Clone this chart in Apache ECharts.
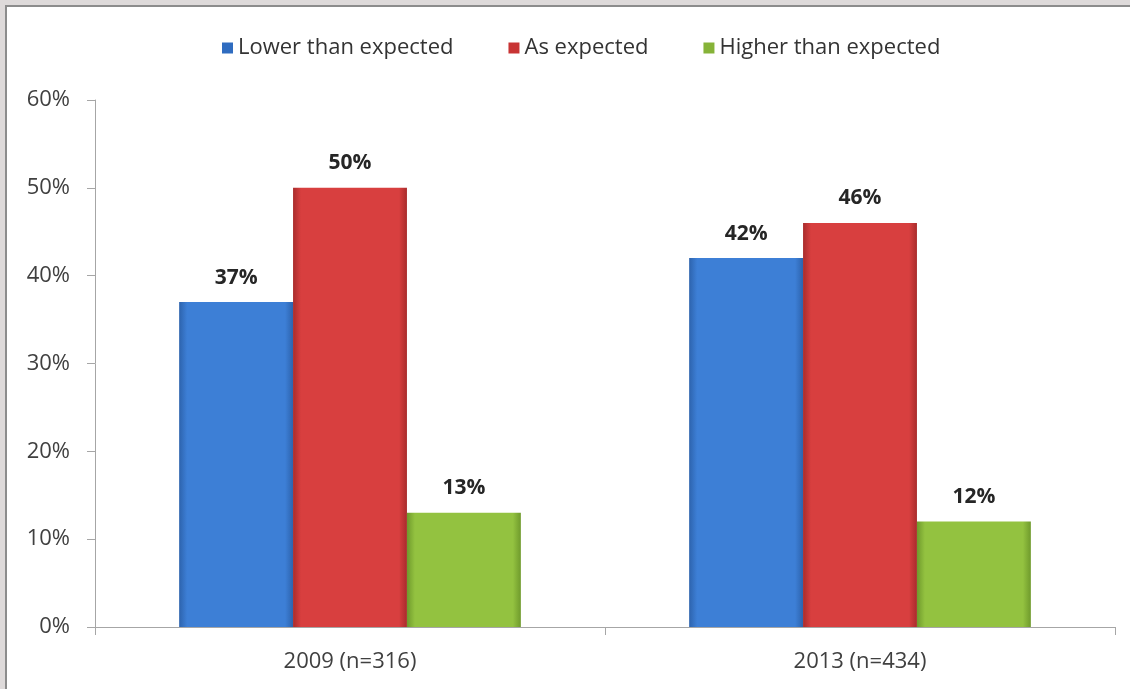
<!DOCTYPE html>
<html>
<head>
<meta charset="utf-8">
<script src="https://cdn.jsdelivr.net/npm/echarts@6/dist/echarts.min.js"></script>
<style>
  html, body { margin: 0; padding: 0; width: 1130px; height: 689px; overflow: hidden; background: #dedada; }
  #frame { position: absolute; left: 5px; top: 5px; width: 1140px; height: 700px; background: #ffffff;
           border-left: 2px solid #8c8c8c; border-top: 2px solid #8c8c8c; }
  #chart { position: absolute; left: 0; top: 0; width: 1130px; height: 689px; }
</style>
</head>
<body>
<div id="frame"></div>
<div id="chart"></div>
<script>
// Survey periods and respondents
const categories = ['2009 (n=316)', '2013 (n=434)'];
const seriesNames = ['Lower than expected', 'As expected', 'Higher than expected'];
// Share of responses, percent
const lowerValues = [37, 42];
const asExpectedValues = [50, 46];
const higherValues = [13, 12];
const yTicks = [0, 10, 20, 30, 40, 50, 60];

const FONT = '"Open Sans", Lato, sans-serif';
const FS = 22;

// Darker vertical edges give the bars a bevelled look
function bevel(edge, main) {
  return {
    type: 'linear', x: 0, y: 0, x2: 1, y2: 0,
    colorStops: [
      { offset: 0, color: edge },
      { offset: 0.07, color: main },
      { offset: 0.93, color: main },
      { offset: 1, color: edge }
    ]
  };
}

const palette = [
  { main: '#3d7fd6', edge: '#2d63ad', legend: '#2f6cc0' },
  { main: '#d83f3f', edge: '#a92c2c', legend: '#c83434' },
  { main: '#93c240', edge: '#6f9a2c', legend: '#86b338' }
];
const valueLists = [lowerValues, asExpectedValues, higherValues];

const chart = echarts.init(document.getElementById('chart'), null, { renderer: 'canvas' });

chart.setOption({
  backgroundColor: 'transparent',
  animation: false,
  textStyle: { fontFamily: FONT },
  legend: {
    top: 32,
    left: 217,
    itemWidth: 11,
    itemHeight: 11,
    itemGap: 55,
    icon: 'rect',
    textStyle: { fontFamily: FONT, fontSize: FS, color: '#333333' },
    data: seriesNames.map((n, i) => ({ name: n, itemStyle: { color: palette[i].legend } }))
  },
  grid: { left: 95, right: 15, top: 100, bottom: 62, containLabel: false },
  xAxis: {
    type: 'category',
    data: categories,
    axisLine: { lineStyle: { color: '#a6a6a6', width: 1 } },
    axisTick: { show: true, length: 8, lineStyle: { color: '#a6a6a6' } },
    axisLabel: { fontFamily: FONT, fontSize: FS, color: '#404040', margin: 24 }
  },
  yAxis: {
    type: 'value',
    min: yTicks[0],
    max: yTicks[yTicks.length - 1],
    interval: 10,
    axisLine: { show: true, lineStyle: { color: '#a6a6a6', width: 1 } },
    axisTick: { show: true, length: 8, lineStyle: { color: '#a6a6a6' } },
    splitLine: { show: false },
    axisLabel: { fontFamily: FONT, fontSize: FS, color: '#404040', margin: 25, formatter: v => v + '%' }
  },
  series: seriesNames.map((name, i) => ({
    name: name,
    type: 'bar',
    data: valueLists[i],
    barGap: '0%',
    barCategoryGap: '33%',
    itemStyle: { color: bevel(palette[i].edge, palette[i].main) },
    label: {
      show: true,
      position: 'top',
      distance: 14,
      formatter: p => p.value + '%',
      fontFamily: FONT,
      fontSize: 21,
      fontWeight: 'bold',
      color: '#262626'
    }
  }))
});
</script>
</body>
</html>
